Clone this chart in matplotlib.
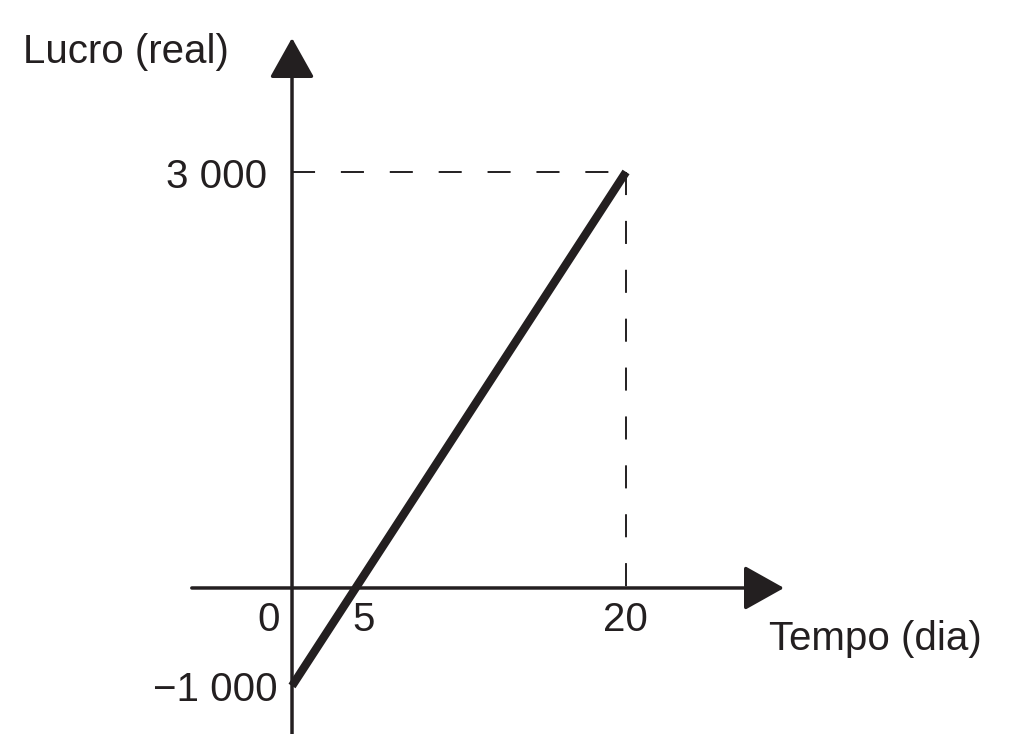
import numpy as np
import matplotlib
matplotlib.use('Agg')
import matplotlib.pyplot as plt

# dados do grafico
dias = [0, 20]
lucro = [-1000, 3000]
rotulos_x = ['0', '5', '20']
valores_x = [0, 5, 20]
rotulos_y = ['3 000', '\u22121 000']
valores_y = [3000, -1000]

cor = '#231f20'
plt.rcParams['font.family'] = ['Liberation Sans', 'DejaVu Sans']
plt.rcParams['lines.scale_dashes'] = False

# o desenho nao esta em escala: a parte negativa do eixo y e comprimida
K = 0.7067

def fwd(y):
    y = np.asarray(y, dtype=float)
    return np.where(y < 0, y * K, y)

def inv(y):
    y = np.asarray(y, dtype=float)
    return np.where(y < 0, y / K, y)

W, H, DPI = 1021, 734, 100
fig = plt.figure(figsize=(W / DPI, H / DPI), dpi=DPI)
ax = fig.add_axes([0, 0, 1, 1])
ax.set_yscale('function', functions=(fwd, inv))
ax.set_xlim(-17.485, 43.65)
ax.set_ylim(-1490, 4240)
ax.axis('off')

FS = 29

# eixos com setas
seta = dict(arrowstyle='-|>,head_length=1.25,head_width=0.7', mutation_scale=20,
            lw=2.5, color=cor, shrinkA=0, shrinkB=0)
ax.annotate('', xy=(29.46, 0), xytext=(-6, 0), arrowprops=seta)
ax.annotate('', xy=(0, 3966), xytext=(0, -1490), arrowprops=seta)

# linhas tracejadas
ax.plot([dias[0], dias[1]], [lucro[1], lucro[1]], color=cor, lw=1.4,
        dashes=(16.6, 18.6))
ax.plot([dias[1], dias[1]], [lucro[1], 0], color=cor, lw=1.4,
        dashes=(16.6, 18.6))

# reta do lucro
ax.plot(dias, lucro, color=cor, lw=6, solid_capstyle='butt')

pt = 72 / DPI
# rotulos do eixo x
desloc_x = {0: (-12, 'right'), 5: (-23.5, 'left'), 20: (-1, 'center')}
for v, r in zip(valores_x, rotulos_x):
    dx, ha = desloc_x[v]
    ax.annotate(r, xy=(v, 0), xytext=(dx * pt, -43 * pt), textcoords='offset points',
                ha=ha, va='baseline', fontsize=FS, color=cor)

# rotulos do eixo y
desloc_y = {3000: (-25, -16), -1000: (-14, -15)}
for v, r in zip(valores_y, rotulos_y):
    dx, dy = desloc_y[v]
    ax.annotate(r, xy=(0, v), xytext=(dx * pt, dy * pt), textcoords='offset points',
                ha='right', va='baseline', fontsize=FS, color=cor)

fig.text(229 / W, 1 - 63 / H, 'Lucro (real)', ha='right', va='baseline',
         fontsize=FS, color=cor)
fig.text(769 / W, 1 - 650 / H, 'Tempo (dia)', ha='left', va='baseline',
         fontsize=FS, color=cor)

fig.savefig('out.png', dpi=DPI, facecolor='white')
